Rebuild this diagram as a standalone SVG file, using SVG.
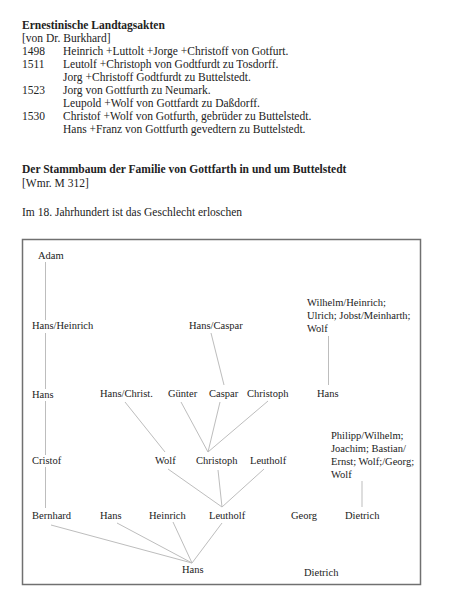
<svg xmlns="http://www.w3.org/2000/svg" width="450" height="599" viewBox="0 0 450 599">
<style>
.t{font-family:"Liberation Serif","Times New Roman",serif;font-size:11.5px;fill:#222}
.b{font-weight:bold}
.n{font-family:"Liberation Serif","Times New Roman",serif;font-size:10.5px;fill:#222}
.c line{stroke:#bdbdbd;stroke-width:1}
</style>
<rect width="450" height="599" fill="#fff"/>
<g id="header">
<text class="t b" x="22" y="29">Ernestinische Landtagsakten</text>
<text class="t" x="22" y="42">[von Dr. Burkhard]</text>
<text class="t" x="22" y="55">1498</text><text class="t" x="63" y="55">Heinrich +Luttolt +Jorge +Christoff von Gotfurt.</text>
<text class="t" x="22" y="68">1511</text><text class="t" x="63" y="68">Leutolf +Christoph von Godtfurdt zu Tosdorff.</text>
<text class="t" x="63" y="81">Jorg +Christoff Godtfurdt zu Buttelstedt.</text>
<text class="t" x="22" y="94">1523</text><text class="t" x="63" y="94">Jorg von Gottfurth zu Neumark.</text>
<text class="t" x="63" y="107">Leupold +Wolf von Gottfardt zu Daßdorff.</text>
<text class="t" x="22" y="120">1530</text><text class="t" x="63" y="120">Christof +Wolf von Gotfurth, gebrüder zu Buttelstedt.</text>
<text class="t" x="63" y="133">Hans +Franz von Gottfurth gevedtern zu Buttelstedt.</text>
<text class="t b" x="22" y="173">Der Stammbaum der Familie von Gottfarth in und um Buttelstedt</text>
<text class="t" x="22" y="186.5">[Wmr. M 312]</text>
<text class="t" x="22" y="216">Im 18. Jahrhundert ist das Geschlecht erloschen</text>
</g>
<rect id="frame" x="22.5" y="239.5" width="398" height="345" fill="none" stroke="#707070" stroke-width="1.5"/>
<g class="c" id="connectors">
<line x1="45.5" y1="262" x2="45.5" y2="320"/>
<line x1="45.5" y1="333" x2="45.5" y2="389"/>
<line x1="45.5" y1="401" x2="45.5" y2="455"/>
<line x1="45.5" y1="467" x2="45.5" y2="508"/>
<line x1="211" y1="333" x2="224" y2="385"/>
<line x1="328.5" y1="336" x2="328.5" y2="385"/>
<line x1="125" y1="402" x2="165" y2="452"/>
<line x1="181" y1="402" x2="208" y2="452"/>
<line x1="220" y1="402" x2="208" y2="452"/>
<line x1="268" y1="401" x2="208" y2="452"/>
<line x1="168" y1="469" x2="222" y2="507"/>
<line x1="218" y1="470" x2="222" y2="507"/>
<line x1="264" y1="469" x2="222" y2="507"/>
<line x1="362" y1="481" x2="362" y2="507"/>
<line x1="51" y1="525" x2="192" y2="563"/>
<line x1="117" y1="523" x2="192" y2="563"/>
<line x1="173" y1="522" x2="192" y2="563"/>
<line x1="222" y1="523" x2="192" y2="563"/>
</g>
<g id="adam"><text class="n" x="38" y="258.5">Adam</text></g>
<g id="hans-heinrich"><text class="n" x="32" y="329">Hans/Heinrich</text></g>
<g id="hans-caspar"><text class="n" x="189" y="329">Hans/Caspar</text></g>
<g id="wilhelm-group"><text class="n" x="307" y="306">Wilhelm/Heinrich;</text><text class="n" x="307" y="319">Ulrich; Jobst/Meinharth;</text><text class="n" x="307" y="332">Wolf</text></g>
<g id="hans1"><text class="n" x="32" y="398">Hans</text></g>
<g id="hans-christ"><text class="n" x="100" y="397">Hans/Christ.</text></g>
<g id="guenter"><text class="n" x="168" y="397">Günter</text></g>
<g id="caspar"><text class="n" x="209" y="397">Caspar</text></g>
<g id="christoph1"><text class="n" x="247" y="397">Christoph</text></g>
<g id="hans-right"><text class="n" x="317" y="397">Hans</text></g>
<g id="cristof"><text class="n" x="32" y="464">Cristof</text></g>
<g id="wolf"><text class="n" x="155" y="464">Wolf</text></g>
<g id="christoph2"><text class="n" x="196" y="464">Christoph</text></g>
<g id="leutholf1"><text class="n" x="250" y="464">Leutholf</text></g>
<g id="philipp-group"><text class="n" x="331" y="439">Philipp/Wilhelm;</text><text class="n" x="331" y="452">Joachim; Bastian/</text><text class="n" x="331" y="465">Ernst; Wolf;/Georg;</text><text class="n" x="331" y="478">Wolf</text></g>
<g id="bernhard"><text class="n" x="32" y="519">Bernhard</text></g>
<g id="hans2"><text class="n" x="100" y="519">Hans</text></g>
<g id="heinrich"><text class="n" x="149" y="519">Heinrich</text></g>
<g id="leutholf2"><text class="n" x="209" y="519">Leutholf</text></g>
<g id="georg"><text class="n" x="291" y="519">Georg</text></g>
<g id="dietrich1"><text class="n" x="345" y="519">Dietrich</text></g>
<g id="hans3"><text class="n" x="182" y="573">Hans</text></g>
<g id="dietrich2"><text class="n" x="304" y="576">Dietrich</text></g>
</svg>
